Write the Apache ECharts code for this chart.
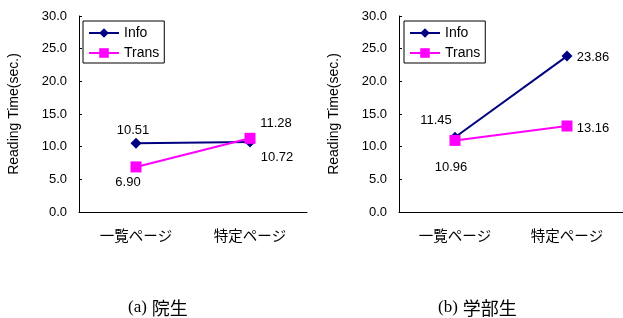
<!DOCTYPE html>
<html>
<head>
<meta charset="utf-8">
<script src="https://cdn.jsdelivr.net/npm/echarts@6/dist/echarts.min.js"></script>
<style>
  html, body { margin: 0; padding: 0; background: #fff; }
  #chart { width: 623px; height: 318px; }
</style>
</head>
<body>
<div id="chart"></div>
<script>
const categories = ['一覧ページ', '特定ページ'];
const yTicks = [0, 5, 10, 15, 20, 25, 30];
const infoA = [10.51, 10.72];
const transA = [6.90, 11.28];
const infoB = [11.45, 23.86];
const transB = [10.96, 13.16];
const captionTags = ['(a)', '(b)'];
const captionNames = ['院生', '学部生'];

const sans = '"Liberation Sans", Arial, "Noto Sans CJK JP", sans-serif';
const jp = '"Noto Sans CJK JP", sans-serif';
const serif = '"Liberation Serif", "Noto Sans CJK JP", serif';

// label offsets per point (style only)
const offs = {
  infoA: [[-3, -13], [27, 15]],
  transA: [[-8, 16], [26, -15]],
  infoB: [[-19, -17], [26, 1]],
  transB: [[-4, 27], [26, 2]]
};

function pts(vals, o){
  return vals.map((v, i) => ({
    value: v,
    label: { offset: o[i] }
  }));
}

const grids = [
  { left: 79, top: 16, width: 228, height: 196 },
  { left: 399, top: 16, width: 228, height: 196 }
];

function xAxis(g){
  return {
    type: 'category', gridIndex: g, data: categories, boundaryGap: true,
    axisLine: { lineStyle: { color: '#000', width: 1 } },
    axisTick: { inside: true, length: 3, lineStyle: { color: '#000' } },
    axisLabel: { color: '#000', fontSize: 14.5, fontFamily: jp, margin: 16 }
  };
}
function yAxis(g){
  return {
    type: 'value', gridIndex: g, min: 0, max: 30, interval: 5,
    name: 'Reading Time(sec.)', nameLocation: 'middle', nameGap: 58, nameRotate: 90,
    nameTextStyle: { color: '#000', fontSize: 14, fontFamily: sans },
    axisLine: { show: true, lineStyle: { color: '#000', width: 1 } },
    axisTick: { show: true, inside: true, length: 3, lineStyle: { color: '#000' } },
    splitLine: { show: false },
    axisLabel: { color: '#000', fontSize: 13, fontFamily: sans, margin: 12,
      formatter: v => yTicks.includes(v) ? v.toFixed(1) : '' }
  };
}
function line(name, g, vals, o, color, symbol, size){
  return {
    name, type: 'line', xAxisIndex: g, yAxisIndex: g,
    data: pts(vals, o),
    symbol, symbolSize: size,
    lineStyle: { color, width: 2 },
    itemStyle: { color },
    label: { show: true, position: 'inside', color: '#000', fontSize: 13, fontFamily: sans,
      formatter: p => p.value.toFixed(2) },
    z: name === 'Trans' ? 3 : 2
  };
}
function legend(left){
  return {
    left, top: 21, orient: 'vertical',
    data: ['Info', 'Trans'],
    borderColor: '#000', borderWidth: 1, borderRadius: 0,
    padding: [5, 5, 3, 5],
    itemWidth: 30, itemHeight: 12, itemGap: 6, itemTextGap: 4,
    textStyle: { color: '#000', fontSize: 14, lineHeight: 14, fontFamily: sans },
    selectedMode: false
  };
}
function caption(i, left){
  return {
    text: '{t|' + captionTags[i] + '} {n|' + captionNames[i] + '}',
    left, top: 294,
    textStyle: {
      fontWeight: 'normal',
      rich: {
        t: { fontSize: 17, fontWeight: 'normal', fontFamily: serif, color: '#000' },
        n: { fontSize: 18, fontWeight: 'normal', fontFamily: jp, color: '#000' }
      }
    }
  };
}

const chart = echarts.init(document.getElementById('chart'));
chart.setOption({
  backgroundColor: '#fff',
  animation: false,
  title: [caption(0, 123), caption(1, 433)],
  legend: [legend(83), legend(404)],
  grid: grids,
  xAxis: [xAxis(0), xAxis(1)],
  yAxis: [yAxis(0), yAxis(1)],
  series: [
    line('Info', 0, infoA, offs.infoA, '#000080', 'diamond', 11),
    line('Trans', 0, transA, offs.transA, '#ff00ff', 'rect', 11),
    line('Info', 1, infoB, offs.infoB, '#000080', 'diamond', 11),
    line('Trans', 1, transB, offs.transB, '#ff00ff', 'rect', 11)
  ]
});
</script>
</body>
</html>
